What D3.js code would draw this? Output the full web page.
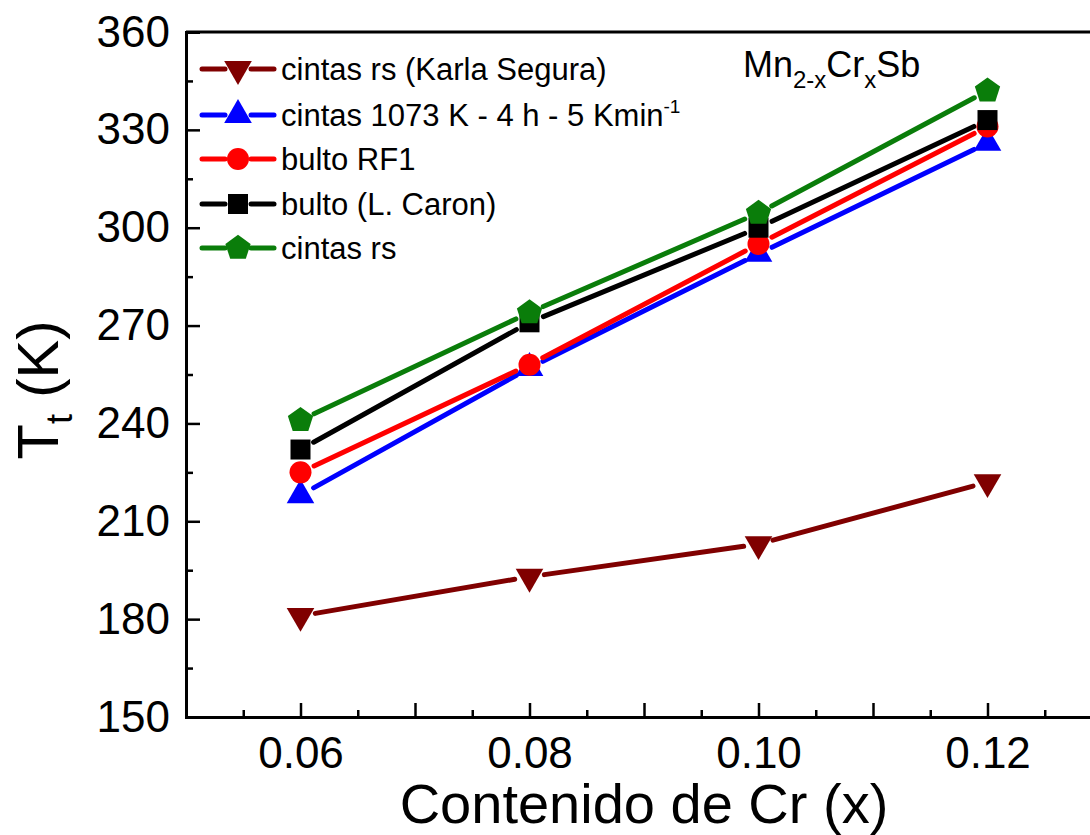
<!DOCTYPE html>
<html>
<head>
<meta charset="utf-8">
<script src="https://cdn.jsdelivr.net/npm/d3@7"></script>
<style>
  body { margin: 0; background: #fff; }
  svg { display: block; font-family: "Liberation Sans", Arial, sans-serif; }
</style>
</head>
<body>
<div id="chart"></div>
<script>
// data
var crContent = [0.06, 0.08, 0.10, 0.12];
var karlaSegura = [181, 193, 203, 222];
var cintas1073 = [218, 257, 292, 326];
var bultoRF1 = [225, 258, 295, 331];
var bultoCaron = [232, 271, 300, 333];
var cintasRs = [241, 274, 304.5, 342];

var xTickLabels = [0.06, 0.08, 0.10, 0.12];
var yTickLabels = [150, 180, 210, 240, 270, 300, 330, 360];

var seriesNames = ["cintas rs (Karla Segura)", "cintas 1073 K - 4 h - 5 Kmin", "bulto RF1", "bulto (L. Caron)", "cintas rs"];

// pentagon symbol (not in d3)
var symbolPentagon = {
  draw: function(context, size) {
    var r = Math.sqrt(size / 2.378);
    for (var k = 0; k < 5; k++) {
      var a = -Math.PI / 2 + k * 2 * Math.PI / 5;
      if (k == 0) context.moveTo(r * Math.cos(a), r * Math.sin(a));
      else context.lineTo(r * Math.cos(a), r * Math.sin(a));
    }
    context.closePath();
  }
};

var series = [
  {name: seriesNames[0], values: karlaSegura, color: "#800000", symbol: d3.symbolTriangle, size: 330, rotate: 180},
  {name: seriesNames[1], values: cintas1073, color: "#0000ff", symbol: d3.symbolTriangle, size: 330, rotate: 0},
  {name: seriesNames[2], values: bultoRF1, color: "#ff0000", symbol: d3.symbolCircle, size: 380, rotate: 0},
  {name: seriesNames[3], values: bultoCaron, color: "#000000", symbol: d3.symbolSquare, size: 400, rotate: 0},
  {name: seriesNames[4], values: cintasRs, color: "#0a7d0a", symbol: symbolPentagon, size: 420, rotate: 0}
];

var w = 1090, h = 835;
var mLeft = 186, mRight = 1102, mTop = 32, mBottom = 717;

var svg = d3.select("#chart")
  .append("svg")
  .attr("width", w)
  .attr("height", h)
  .style("background-color", "white");

var x = d3.scaleLinear().domain([0.05, 0.13]).range([mLeft, mRight]);
var y = d3.scaleLinear().domain([150, 360]).range([mBottom, mTop]);

// minor ticks
svg.append("g")
  .attr("transform", "translate(0," + mBottom + ")")
  .call(d3.axisBottom(x).tickValues(d3.range(0.055, 0.13, 0.01)).tickSize(-7).tickFormat(""))
  .call(function(g){ g.select(".domain").remove(); });
svg.append("g")
  .attr("transform", "translate(" + mLeft + ",0)")
  .call(d3.axisLeft(y).tickValues(d3.range(165, 360, 30)).tickSize(-7).tickFormat(""))
  .call(function(g){ g.select(".domain").remove(); });

// major ticks + labels
var xAxis = svg.append("g")
  .attr("transform", "translate(0," + mBottom + ")")
  .call(d3.axisBottom(x)
    .tickValues(d3.range(0.06, 0.125, 0.01))
    .tickSize(-14)
    .tickPadding(20)
    .tickFormat(function(d){
      var hit = xTickLabels.some(function(v){ return Math.abs(v - d) < 1e-6; });
      return hit ? d3.format(".2f")(d) : "";
    }));

var yAxis = svg.append("g")
  .attr("transform", "translate(" + mLeft + ",0)")
  .call(d3.axisLeft(y).tickValues(yTickLabels).tickSize(-14).tickPadding(16));

svg.selectAll(".tick line").attr("stroke", "#000").attr("stroke-width", 2.5);
svg.selectAll(".domain").attr("stroke", "#000").attr("stroke-width", 3);
svg.selectAll(".tick text").attr("fill", "#000").style("font-size", "44px");

// top frame line
svg.append("line")
  .attr("x1", mLeft).attr("x2", w)
  .attr("y1", mTop).attr("y2", mTop)
  .attr("stroke", "#000").attr("stroke-width", 3);

// axis titles
svg.append("text")
  .attr("x", 644).attr("y", 823)
  .attr("text-anchor", "middle")
  .style("font-size", "56px")
  .text("Contenido de Cr (x)");

var yTitle = svg.append("text")
  .attr("transform", "translate(58,390) rotate(-90)")
  .attr("text-anchor", "middle")
  .style("font-size", "58px");
yTitle.append("tspan").text("T");
yTitle.append("tspan").attr("dy", 14).style("font-size", "36px").text("t");
yTitle.append("tspan").attr("dy", -14).text(" (K)");

// lines with gaps next to the symbols
var gap = 15;
series.forEach(function(s){
  var pts = s.values.map(function(v, i){ return [x(crContent[i]), y(v)]; });
  for (var i = 0; i < pts.length - 1; i++) {
    var p = pts[i], q = pts[i + 1];
    var dx = q[0] - p[0], dy = q[1] - p[1];
    var len = Math.sqrt(dx * dx + dy * dy);
    svg.append("line")
      .attr("x1", p[0] + dx / len * gap).attr("y1", p[1] + dy / len * gap)
      .attr("x2", q[0] - dx / len * gap).attr("y2", q[1] - dy / len * gap)
      .attr("stroke", s.color)
      .attr("stroke-width", 5)
      .attr("stroke-linecap", "round");
  }
});

series.forEach(function(s){
  svg.selectAll(null)
    .data(s.values)
    .enter()
    .append("path")
    .attr("d", d3.symbol().type(s.symbol).size(s.size))
    .attr("transform", function(d, i){
      return "translate(" + x(crContent[i]) + "," + y(d) + ") rotate(" + s.rotate + ")";
    })
    .attr("fill", s.color);
});

// legend
var legY = [69, 115, 159, 204, 248];
var legend = svg.append("g");
series.forEach(function(s, i){
  var ly = legY[i];
  legend.append("line").attr("x1", 202).attr("x2", 225).attr("y1", ly).attr("y2", ly)
    .attr("stroke", s.color).attr("stroke-width", 5).attr("stroke-linecap", "round");
  legend.append("line").attr("x1", 251).attr("x2", 274).attr("y1", ly).attr("y2", ly)
    .attr("stroke", s.color).attr("stroke-width", 5).attr("stroke-linecap", "round");
  legend.append("path")
    .attr("d", d3.symbol().type(s.symbol).size(s.size))
    .attr("transform", "translate(238," + ly + ") rotate(" + s.rotate + ")")
    .attr("fill", s.color);
  var t = legend.append("text")
    .attr("x", 281).attr("y", ly + 11)
    .style("font-size", "31px")
    .text(s.name);
  if (i == 1) {
    t.append("tspan").attr("dy", -13).style("font-size", "19px").text("-1");
  }
});

// compound label
var title = svg.append("text").attr("x", 743).attr("y", 77).style("font-size", "36px");
title.append("tspan").text("Mn");
title.append("tspan").attr("dy", 11).style("font-size", "24px").text("2-x");
title.append("tspan").attr("dy", -11).text("Cr");
title.append("tspan").attr("dy", 11).style("font-size", "24px").text("x");
title.append("tspan").attr("dy", -11).text("Sb");
</script>
</body>
</html>
